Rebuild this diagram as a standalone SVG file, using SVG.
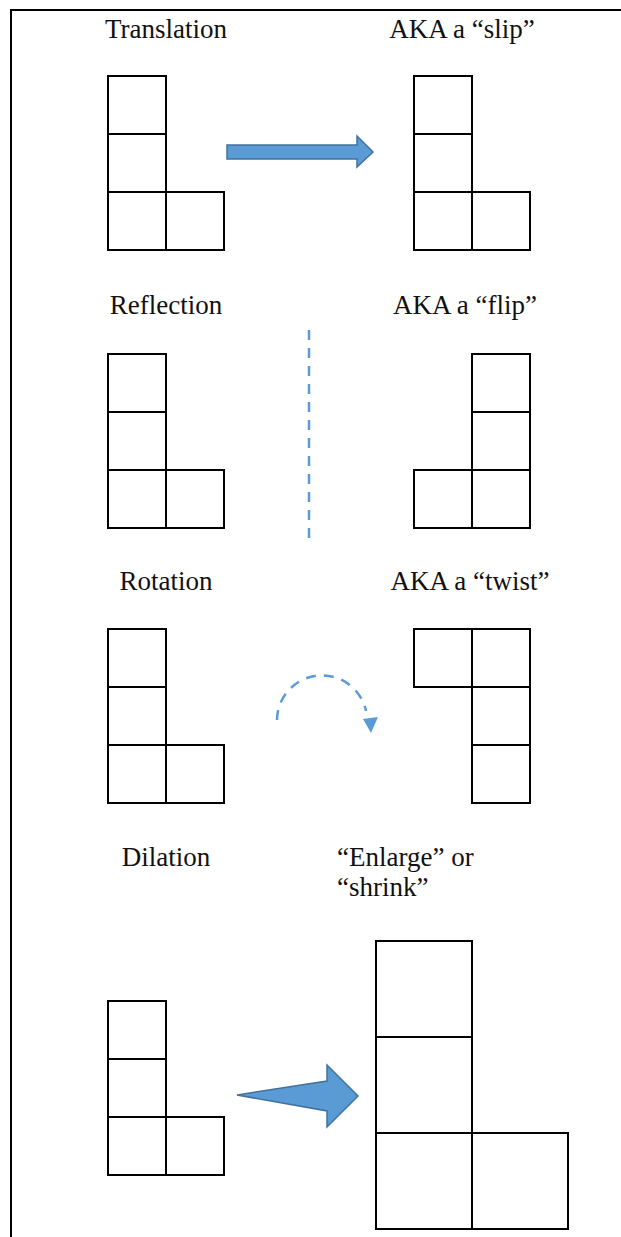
<svg xmlns="http://www.w3.org/2000/svg" width="621" height="1237" viewBox="0 0 621 1237">
<style>
.cell{fill:none;stroke:#000;stroke-width:2}
.lbl{font-family:"Liberation Serif",serif;font-size:27px;fill:#111}
.blue{fill:#5b9bd5;stroke:#41719c;stroke-width:1.5}
.dash{fill:none;stroke:#5b9bd5;stroke-width:2.5;stroke-dasharray:10 8}
</style>
<rect width="621" height="1237" fill="#fff"/>
<g id="frame"><path d="M11 1237 V10 H621" fill="none" stroke="#000" stroke-width="2"/></g>

<g id="label-translation"><text class="lbl" x="166" y="38" text-anchor="middle">Translation</text></g>
<g id="label-slip"><text class="lbl" x="462" y="38" text-anchor="middle">AKA a “slip”</text></g>
<g id="label-reflection"><text class="lbl" x="166" y="314" text-anchor="middle">Reflection</text></g>
<g id="label-flip"><text class="lbl" x="465" y="314" text-anchor="middle">AKA a “flip”</text></g>
<g id="label-rotation"><text class="lbl" x="166" y="590" text-anchor="middle">Rotation</text></g>
<g id="label-twist"><text class="lbl" x="470" y="590" text-anchor="middle">AKA a “twist”</text></g>
<g id="label-dilation"><text class="lbl" x="166" y="866" text-anchor="middle">Dilation</text></g>
<g id="label-enlarge"><text class="lbl" x="337" y="866">“Enlarge” or</text><text class="lbl" x="337" y="896">“shrink”</text></g>

<g id="translation-original">
<rect class="cell" x="108" y="76" width="58" height="58"/>
<rect class="cell" x="108" y="134" width="58" height="58"/>
<rect class="cell" x="108" y="192" width="58" height="58"/>
<rect class="cell" x="166" y="192" width="58" height="58"/>
</g>
<g id="translation-image">
<rect class="cell" x="414" y="76" width="58" height="58"/>
<rect class="cell" x="414" y="134" width="58" height="58"/>
<rect class="cell" x="414" y="192" width="58" height="58"/>
<rect class="cell" x="472" y="192" width="58" height="58"/>
</g>

<g id="reflection-original">
<rect class="cell" x="108" y="354" width="58" height="58"/>
<rect class="cell" x="108" y="412" width="58" height="58"/>
<rect class="cell" x="108" y="470" width="58" height="58"/>
<rect class="cell" x="166" y="470" width="58" height="58"/>
</g>
<g id="reflection-image">
<rect class="cell" x="472" y="354" width="58" height="58"/>
<rect class="cell" x="472" y="412" width="58" height="58"/>
<rect class="cell" x="472" y="470" width="58" height="58"/>
<rect class="cell" x="414" y="470" width="58" height="58"/>
</g>

<g id="rotation-original">
<rect class="cell" x="108" y="629" width="58" height="58"/>
<rect class="cell" x="108" y="687" width="58" height="58"/>
<rect class="cell" x="108" y="745" width="58" height="58"/>
<rect class="cell" x="166" y="745" width="58" height="58"/>
</g>
<g id="rotation-image">
<rect class="cell" x="414" y="629" width="58" height="58"/>
<rect class="cell" x="472" y="629" width="58" height="58"/>
<rect class="cell" x="472" y="687" width="58" height="58"/>
<rect class="cell" x="472" y="745" width="58" height="58"/>
</g>

<g id="dilation-original">
<rect class="cell" x="108" y="1001" width="58" height="58"/>
<rect class="cell" x="108" y="1059" width="58" height="58"/>
<rect class="cell" x="108" y="1117" width="58" height="58"/>
<rect class="cell" x="166" y="1117" width="58" height="58"/>
</g>
<g id="dilation-image">
<rect class="cell" x="376" y="941" width="96" height="96"/>
<rect class="cell" x="376" y="1037" width="96" height="96"/>
<rect class="cell" x="376" y="1133" width="96" height="96"/>
<rect class="cell" x="472" y="1133" width="96" height="96"/>
</g>

<g id="connectors">
<polygon class="blue" points="227,145 357,145 357,136 373,152 357,167 357,159 227,159"/>
<line class="dash" x1="309" y1="330" x2="309" y2="544"/>
<path class="dash" d="M277 720 A45 45 0 0 1 366 711"/>
<polygon points="363,719 378,717 371,733" fill="#5b9bd5"/>
<polygon class="blue" points="237,1095 327,1081 327,1065 358,1096 327,1127 327,1111"/>
</g>
</svg>
